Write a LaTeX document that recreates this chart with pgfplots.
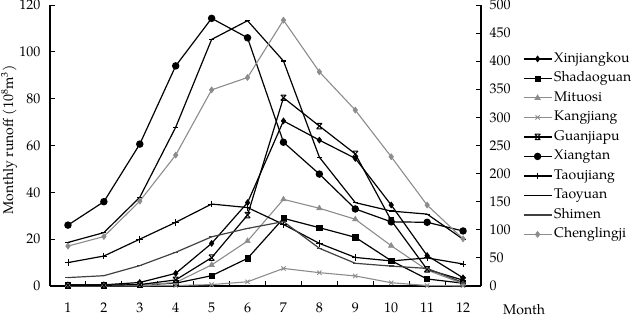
\documentclass[border=0pt]{standalone}
\usepackage{fontspec}
\setmainfont{TeX Gyre Pagella}
\usepackage{pgfplots}
\pgfplotsset{compat=1.18}
\definecolor{lgray}{HTML}{8C8C8C}
\definecolor{dgray}{HTML}{404040}
\pgfdeclareplotmark{hourglass}{%
  \pgfpathmoveto{\pgfqpoint{-\pgfplotmarksize}{\pgfplotmarksize}}%
  \pgfpathlineto{\pgfqpoint{\pgfplotmarksize}{-\pgfplotmarksize}}%
  \pgfpathmoveto{\pgfqpoint{-\pgfplotmarksize}{-\pgfplotmarksize}}%
  \pgfpathlineto{\pgfqpoint{\pgfplotmarksize}{\pgfplotmarksize}}%
  \pgfpathmoveto{\pgfqpoint{-\pgfplotmarksize}{\pgfplotmarksize}}%
  \pgfpathlineto{\pgfqpoint{\pgfplotmarksize}{\pgfplotmarksize}}%
  \pgfpathmoveto{\pgfqpoint{-\pgfplotmarksize}{-\pgfplotmarksize}}%
  \pgfpathlineto{\pgfqpoint{\pgfplotmarksize}{-\pgfplotmarksize}}%
  \pgfusepathqstroke}
\pgfplotsset{
  sXin/.style={black, line width=1.2pt, mark=diamond*, mark size=3pt, mark options={solid, fill=black, line width=0.6pt}},
  sSha/.style={black, line width=1.2pt, mark=square*, mark size=2.6pt, mark options={solid, fill=black, line width=0.6pt}},
  sMit/.style={lgray, line width=1.1pt, mark=triangle*, mark size=3.1pt, mark options={solid, fill=lgray, line width=0.6pt}},
  sKan/.style={lgray, line width=1.1pt, mark=x, mark size=3pt, mark options={solid, line width=0.9pt}},
  sGua/.style={black, line width=1.2pt, mark=hourglass, mark size=2.7pt, mark options={solid, line width=1pt}},
  sXia/.style={black, line width=1.2pt, mark=*, mark size=3.1pt, mark options={solid, fill=black}},
  sTaj/.style={black, line width=1.2pt, mark=+, mark size=3.4pt, mark options={solid, line width=0.9pt}},
  sTay/.style={black, line width=1.2pt, mark=-, mark size=2.5pt, mark options={solid, line width=1.2pt}},
  sShi/.style={dgray, line width=1.2pt, mark=-, mark size=2.5pt, mark options={solid, line width=1.2pt}},
  sChe/.style={lgray, line width=1.1pt, mark=diamond*, mark size=3pt, mark options={solid, fill=lgray, line width=0.6pt}},
  legend image code/.code={\draw[mark repeat=2, mark phase=2] plot coordinates {(0pt,0pt) (14pt,0pt) (28pt,0pt)};},
  common/.style={
    scale only axis, width=431pt, height=281pt,
    xmin=0.5, xmax=12.5,
    tick align=inside, major tick length=5pt,
    font=\fontsize{14}{16}\selectfont,
    /pgf/number format/assume math mode=true,
    axis line style={line width=1.1pt},
    every tick/.style={black, line width=0.9pt},
  },
}
\begin{document}
\begin{tikzpicture}
\begin{axis}[common,
  axis x line*=bottom, axis y line*=left,
  ymin=0, ymax=120, ytick={0,20,...,120},
  xtick={1.5,2.5,...,11.5}, xticklabels={},
  extra x ticks={1,2,3,4,5,6,7,8,9,10,11,12},
  extra x tick style={major tick length=0pt, xticklabel style={yshift=-13pt}},
  yticklabel style={xshift=-6pt},
  ylabel={Monthly runoff (10\textsuperscript{8}m\textsuperscript{3})},
  ylabel style={at={(axis description cs:-0.095,0.52)}, anchor=center},
  xlabel={Month},
  xlabel style={at={(axis description cs:1.1,-0.083)}, anchor=center, inner sep=0pt},
]
\addplot[sXin] coordinates {(1,0.5) (2,0.5) (3,1.5) (4,5.4) (5,18.2) (6,35.6) (7,70.5) (8,62.3) (9,54.5) (10,34.6) (11,13) (12,3.5)};
\addplot[sSha] coordinates {(1,0.3) (2,0.3) (3,0.5) (4,1.2) (5,4.4) (6,11.8) (7,28.9) (8,24.9) (9,20.8) (10,10.8) (11,3) (12,1.2)};
\addplot[sMit] coordinates {(1,0.2) (2,0.2) (3,0.4) (4,1.5) (5,9) (6,19.2) (7,37) (8,33.2) (9,28.5) (10,17.2) (11,6.8) (12,1)};
\addplot[sKan] coordinates {(1,0.1) (2,0.1) (3,0.1) (4,0.2) (5,0.6) (6,1.8) (7,7.5) (8,5.7) (9,4.3) (10,1.4) (11,0.2) (12,0.1)};
\addplot[sGua] coordinates {(1,0.3) (2,0.3) (3,0.6) (4,2.6) (5,12.1) (6,30.3) (7,80.4) (8,68.3) (9,56.4) (10,28) (11,7.1) (12,2.5)};
\addplot[sXia] coordinates {(1,26) (2,36) (3,60.6) (4,94) (5,114.3) (6,106) (7,61.4) (8,47.8) (9,32.9) (10,27.4) (11,27.2) (12,23.5)};
\addplot[sTaj] coordinates {(1,10) (2,12.8) (3,20) (4,27.2) (5,35) (6,33.5) (7,26.3) (8,18.2) (9,12.2) (10,10.7) (11,12) (12,9.4)};
\addplot[sTay] coordinates {(1,18.6) (2,22.8) (3,37.9) (4,67.8) (5,105.3) (6,113.3) (7,96.1) (8,55) (9,35.6) (10,32) (11,30.7) (12,20)};
\addplot[sShi] coordinates {(1,3.6) (2,4.4) (3,8.7) (4,14.4) (5,21) (6,24.6) (7,27.5) (8,16.1) (9,9.7) (10,8.5) (11,7.5) (12,1.5)};
\end{axis}
\begin{axis}[common,
  axis y line*=right, axis x line=none,
  ymin=0, ymax=500, ytick={0,50,...,500},
  yticklabel style={xshift=5pt},
  legend style={at={(axis description cs:1.09,0.84)}, anchor=north west, draw=none, fill=none,
    font=\fontsize{14}{16}\selectfont, row sep=6pt,
    nodes={inner ysep=0pt, inner xsep=2pt, text height=10pt, text depth=3.5pt}},
  legend cell align=left,
]
\addlegendimage{sXin}\addlegendentry{Xinjiangkou}
\addlegendimage{sSha}\addlegendentry{Shadaoguan}
\addlegendimage{sMit}\addlegendentry{Mituosi}
\addlegendimage{sKan}\addlegendentry{Kangjiang}
\addlegendimage{sGua}\addlegendentry{Guanjiapu}
\addlegendimage{sXia}\addlegendentry{Xiangtan}
\addlegendimage{sTaj}\addlegendentry{Taoujiang}
\addlegendimage{sTay}\addlegendentry{Taoyuan}
\addlegendimage{sShi}\addlegendentry{Shimen}
\addplot[sChe] coordinates {(1,71) (2,88) (3,151) (4,233) (5,349) (6,371) (7,473) (8,381) (9,313) (10,230) (11,144) (12,84)};
\addlegendentry{Chenglingji}
\end{axis}
\pgfresetboundingbox
\path[use as bounding box] (-50pt,-33pt) rectangle (581pt,286pt);
\end{tikzpicture}
\end{document}
